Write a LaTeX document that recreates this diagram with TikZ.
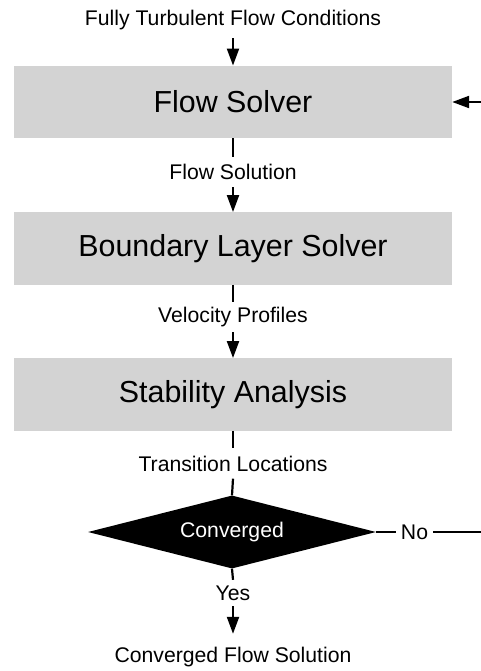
\documentclass[tikz,border=0pt]{standalone}
\usepackage{fontspec}
\setmainfont{Liberation Sans}
\usetikzlibrary{arrows.meta,shapes.geometric}
\begin{document}
\begin{tikzpicture}[x=1pt,y=-1pt,
  conn/.style={line width=2.2pt},
  arr/.style={conn,-{Triangle[length=17pt,width=12pt]}},
  procbox/.style={fill={rgb,255:red,211;green,211;blue,211},draw=none,minimum width=438pt,minimum height=72.5pt,inner sep=0pt,font=\fontsize{30.4pt}{36pt}\selectfont},
  lbl/.style={inner sep=0pt,minimum height=30pt,font=\fontsize{21.2pt}{25pt}\selectfont},
  decision/.style={diamond,aspect=3.95,fill=black,draw=none,minimum width=288pt,minimum height=73pt,inner sep=0pt,text=white,font=\fontsize{21.2pt}{25pt}\selectfont}]
\useasboundingbox (0,0) rectangle (481,671);
\clip (0,0) rectangle (481,671);
\node[lbl] (in) at (233,20) {Fully Turbulent Flow Conditions};
\node[procbox] (fs) at (233,102) {Flow Solver};
\node[lbl] (l1) at (233,172) {Flow Solution};
\node[procbox] (bl) at (233,248.5) {Boundary Layer Solver};
\node[lbl] (l2) at (233,317) {Velocity Profiles};
\node[procbox] (sa) at (233,394.5) {Stability Analysis};
\node[lbl] (l3) at (233,463.5) {Transition Locations};
\node[decision] (cv) at (232,532) {Converged};
\node[lbl,minimum height=26pt,inner xsep=5pt] (yes) at (233,593) {Yes};
\node[lbl,inner xsep=5pt] (no) at (414.5,532) {No};
\node[lbl] (out) at (233,657) {Converged Flow Solution};
\coordinate (rt) at (490,532);
\coordinate (rb) at (490,102);

\draw[arr,shorten <=3pt] (in.south) -- (fs.north);
\draw[conn] (fs.south) -- (l1.north);
\draw[arr] (l1.south) -- (bl.north);
\draw[conn] (bl.south) -- (l2.north);
\draw[arr] (l2.south) -- (sa.north);
\draw[conn] (sa.south) -- (l3.north);
\draw[conn] (l3.south) -- (cv.north);
\draw[conn] (cv.south) -- (yes.north);
\draw[arr,shorten >=8pt] (yes.south) -- (out.north);
\draw[conn] (cv.east) -- (no.west);
\draw[arr] (no.east) -- (rt) -- (rb) -- (fs.east);
\end{tikzpicture}
\end{document}
